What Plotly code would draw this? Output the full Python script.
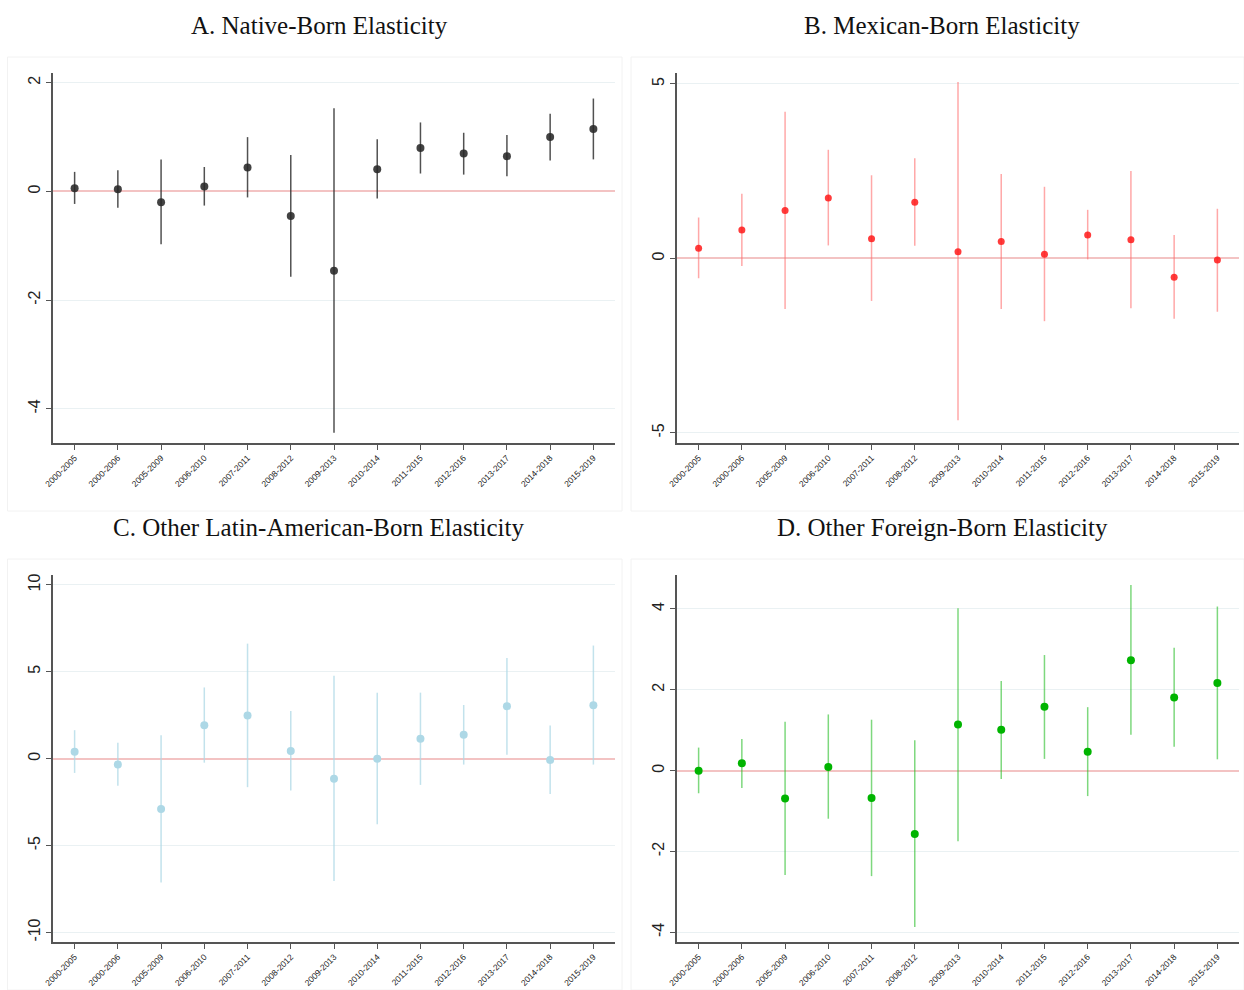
import plotly.graph_objects as go

periods = ['2000-2005', '2000-2006', '2005-2009', '2006-2010', '2007-2011', '2008-2012', '2009-2013',
           '2010-2014', '2011-2015', '2012-2016', '2013-2017', '2014-2018', '2015-2019']

# A. native-born
native_est = [0.06, 0.04, -0.20, 0.09, 0.44, -0.45, -1.46, 0.41, 0.80, 0.70, 0.65, 1.00, 1.15]
native_hi = [0.36, 0.39, 0.59, 0.45, 1.00, 0.67, 1.53, 0.96, 1.27, 1.08, 1.04, 1.43, 1.71]
native_lo = [-0.23, -0.30, -0.97, -0.26, -0.11, -1.57, -4.44, -0.13, 0.33, 0.31, 0.28, 0.57, 0.59]
native_ticks = [-4, -2, 0, 2]

# B. mexican-born
mex_est = [0.29, 0.81, 1.37, 1.73, 0.56, 1.61, 0.19, 0.48, 0.12, 0.67, 0.53, -0.54, -0.05]
mex_hi = [1.17, 1.85, 4.20, 3.11, 2.38, 2.87, 5.05, 2.42, 2.05, 1.39, 2.50, 0.67, 1.42]
mex_lo = [-0.57, -0.22, -1.45, 0.37, -1.22, 0.36, -4.64, -1.45, -1.80, -0.03, -1.43, -1.73, -1.53]
mex_ticks = [-5, 0, 5]

# C. other latin-american-born
latam_est = [0.40, -0.34, -2.90, 1.93, 2.48, 0.44, -1.15, 0.0, 1.15, 1.37, 3.02, -0.08, 3.07]
latam_hi = [1.64, 0.92, 1.35, 4.10, 6.62, 2.75, 4.77, 3.80, 3.80, 3.09, 5.80, 1.91, 6.51]
latam_lo = [-0.82, -1.56, -7.12, -0.23, -1.64, -1.83, -7.04, -3.78, -1.51, -0.34, 0.23, -2.04, -0.34]
latam_ticks = [-10, -5, 0, 5, 10]

# D. other foreign-born
other_est = [0.0, 0.18, -0.69, 0.09, -0.68, -1.57, 1.14, 1.01, 1.58, 0.47, 2.73, 1.81, 2.17]
other_hi = [0.57, 0.78, 1.21, 1.39, 1.26, 0.75, 4.02, 2.22, 2.86, 1.57, 4.59, 3.04, 4.06]
other_lo = [-0.56, -0.43, -2.58, -1.19, -2.61, -3.87, -1.75, -0.21, 0.29, -0.63, 0.89, 0.59, 0.28]
other_ticks = [-4, -2, 0, 2, 4]

W, H = 1244, 990

panels = [
    dict(title='A. Native-Born Elasticity', est=native_est, hi=native_hi, lo=native_lo, ticks=native_ticks,
         marker='rgba(40,40,40,0.88)', line='rgba(50,50,50,0.85)', size=8,
         yrange=[-4.63, 2.18], box=(53, 615, 73, 443), frame=(7.5, 622, 57, 511), tx=319, ty=25),
    dict(title='B. Mexican-Born Elasticity', est=mex_est, hi=mex_hi, lo=mex_lo, ticks=mex_ticks,
         marker='rgba(255,25,25,0.85)', line='rgba(255,110,110,0.6)', size=7,
         yrange=[-5.29, 5.31], box=(677, 1239, 73, 443), frame=(631, 1244, 57, 511), tx=942, ty=25),
    dict(title='C. Other Latin-American-Born Elasticity', est=latam_est, hi=latam_hi, lo=latam_lo, ticks=latam_ticks,
         marker='rgb(173,216,230)', line='rgba(173,216,230,0.75)', size=8,
         yrange=[-10.55, 10.57], box=(53, 615, 575, 942), frame=(7.5, 622, 559, 990), tx=318, ty=527),
    dict(title='D. Other Foreign-Born Elasticity', est=other_est, hi=other_hi, lo=other_lo, ticks=other_ticks,
         marker='rgb(0,180,0)', line='rgba(40,190,40,0.6)', size=8,
         yrange=[-4.24, 4.84], box=(677, 1239, 575, 942), frame=(631, 1244, 559, 990), tx=942, ty=527),
]

fig = go.Figure()
layout = dict(width=W, height=H, margin=dict(l=0, r=0, t=0, b=0, autoexpand=False),
              paper_bgcolor='white', plot_bgcolor='white', showlegend=False)
annotations = []
shapes = []

for i, p in enumerate(panels):
    n = '' if i == 0 else str(i + 1)
    x0, x1, y0, y1 = p['box']
    plus = [h - e for h, e in zip(p['hi'], p['est'])]
    minus = [e - l for e, l in zip(p['est'], p['lo'])]

    fig.add_trace(go.Scatter(
        x=periods, y=p['est'], mode='markers',
        marker=dict(color=p['marker'], size=p['size']),
        error_y=dict(type='data', symmetric=False, array=plus, arrayminus=minus,
                     color=p['line'], thickness=1.5, width=0),
        xaxis='x' + n, yaxis='y' + n,
    ))

    layout['xaxis' + n] = dict(
        domain=[x0 / W, x1 / W], anchor='y' + n, type='category', range=[-0.5, 12.5],
        showline=True, linecolor='#555', linewidth=1.5, ticks='outside', ticklen=5,
        tickcolor='#555', tickangle=-45, tickfont=dict(family='Liberation Sans', size=8.5, color='#222'),
        showgrid=False, zeroline=False, fixedrange=True, automargin=False,
    )
    layout['yaxis' + n] = dict(
        domain=[1 - y1 / H, 1 - y0 / H], anchor='x' + n, range=p['yrange'],
        tickmode='array', tickvals=p['ticks'], ticktext=[str(t) for t in p['ticks']],
        showline=True, linecolor='#555', linewidth=1.5, ticks='outside', ticklen=5,
        tickcolor='#555', tickangle=-90, tickfont=dict(family='Liberation Sans', size=16, color='#222'),
        showgrid=True, gridcolor='#eaf1f3', gridwidth=1,
        zeroline=True, zerolinecolor='#f3c3c3', zerolinewidth=1.5, fixedrange=True, automargin=False,
    )

    annotations.append(dict(
        text=p['title'], x=p['tx'] / W, y=1 - p['ty'] / H, xref='paper', yref='paper',
        xanchor='center', yanchor='middle', showarrow=False,
        font=dict(family='Liberation Serif', size=25, color='#111'),
    ))

    fx0, fx1, fy0, fy1 = p['frame']
    shapes.append(dict(type='rect', xref='paper', yref='paper',
                       x0=fx0 / W, x1=fx1 / W, y0=1 - fy1 / H, y1=1 - fy0 / H,
                       line=dict(color='#f2f2f2', width=1), layer='below'))

layout['annotations'] = annotations
layout['shapes'] = shapes
fig.update_layout(**layout)

# page margin off, so the figure sits at the window's top-left corner
fig.write_html("out.html", config={'displayModeBar': False},
               post_script="document.body.style.margin='0';document.body.style.overflow='hidden';")
